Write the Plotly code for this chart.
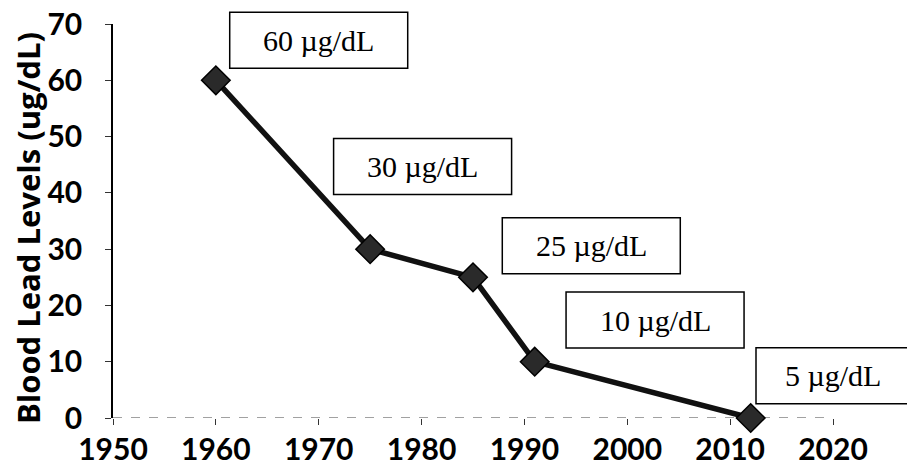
import plotly.graph_objects as go

# Data
years = [1960, 1975, 1985, 1991, 2012]
blood_lead = [60, 30, 25, 10, 0]
label_texts = ["60 µg/dL", "30 µg/dL", "25 µg/dL", "10 µg/dL", "5 µg/dL"]
x_ticks = [1950, 1960, 1970, 1980, 1990, 2000, 2010, 2020]
y_ticks = [0, 10, 20, 30, 40, 50, 60, 70]
y_title = "Blood Lead Levels (ug/dL)"

# Label text positions (data coordinates) and box extents (px relative to text centre)
label_x = [1970.0, 1980.1, 1996.5, 2002.7, 2020.0]
label_y = [67.1, 44.7, 30.6, 17.4, 7.5]
box_left = [-89, -89, -89, -89, -77]
box_right = [89, 89, 89, 89, 110]
box_half_h = 28

X0, X1, Y0, Y1 = 1950, 2020, 0, 70
PLOT_W, PLOT_H = 720, 394

fig = go.Figure()
fig.add_trace(go.Scatter(
    x=years, y=blood_lead, mode="lines+markers",
    line=dict(color="#111111", width=5.5),
    marker=dict(symbol="diamond", size=22, color="#2a2a2a",
                line=dict(color="#000000", width=1.5)),
    cliponaxis=False, showlegend=False,
))

for t, lx, ly, bl, br in zip(label_texts, label_x, label_y, box_left, box_right):
    px = (lx - X0) / (X1 - X0)
    py = (ly - Y0) / (Y1 - Y0)
    fig.add_shape(type="rect", xref="paper", yref="paper",
                  x0=px + bl / PLOT_W, x1=px + br / PLOT_W,
                  y0=py - box_half_h / PLOT_H, y1=py + box_half_h / PLOT_H,
                  line=dict(color="#000", width=1.5), fillcolor="white", layer="above")
    fig.add_annotation(
        x=px, y=py, xref="paper", yref="paper", text=t, showarrow=False,
        font=dict(family="Liberation Serif, Times New Roman, serif", size=30, color="#000"),
        xanchor="center", yanchor="middle",
    )

# y-axis title (rotated text placed in the left margin)
fig.add_annotation(
    x=-85 / PLOT_W, y=0.482, xref="paper", yref="paper", text=y_title,
    textangle=-90, showarrow=False, xanchor="center", yanchor="middle",
    font=dict(family="Open Sans, Lato, sans-serif", size=31, color="#000", weight="bold"),
)

# dotted x baseline
fig.add_shape(type="line", xref="paper", yref="y", x0=0, x1=1, y0=0, y1=0,
              line=dict(color="#444", width=1.2, dash="dash"), layer="below")

tick_font = dict(family="Lato, Open Sans, sans-serif", size=30, color="#000", weight="bold")

fig.update_layout(
    width=907, height=465,
    margin=dict(l=113, r=74, t=24, b=47, autoexpand=False),
    paper_bgcolor="white", plot_bgcolor="white",
    xaxis=dict(range=[X0, X1], tickvals=x_ticks, ticktext=[str(v) for v in x_ticks],
               showgrid=False, zeroline=False, showline=False,
               ticks="outside", ticklen=6, tickwidth=1, tickcolor="#333",
               tickfont=tick_font, ticklabelstandoff=-1, ticklabeloverflow="allow",
               automargin=False),
    yaxis=dict(range=[Y0, Y1], tickvals=y_ticks, ticktext=[str(v) for v in y_ticks],
               showgrid=False, zeroline=False, showline=True, linecolor="#000", linewidth=1.5,
               ticks="outside", ticklen=6, tickwidth=1, tickcolor="#333",
               tickfont=tick_font, ticklabelstandoff=17, ticklabeloverflow="allow",
               automargin=False),
)

fig.write_html("out.html",
               config={"displayModeBar": False},
               post_script="document.body.style.margin='0';document.body.style.overflow='hidden';")
